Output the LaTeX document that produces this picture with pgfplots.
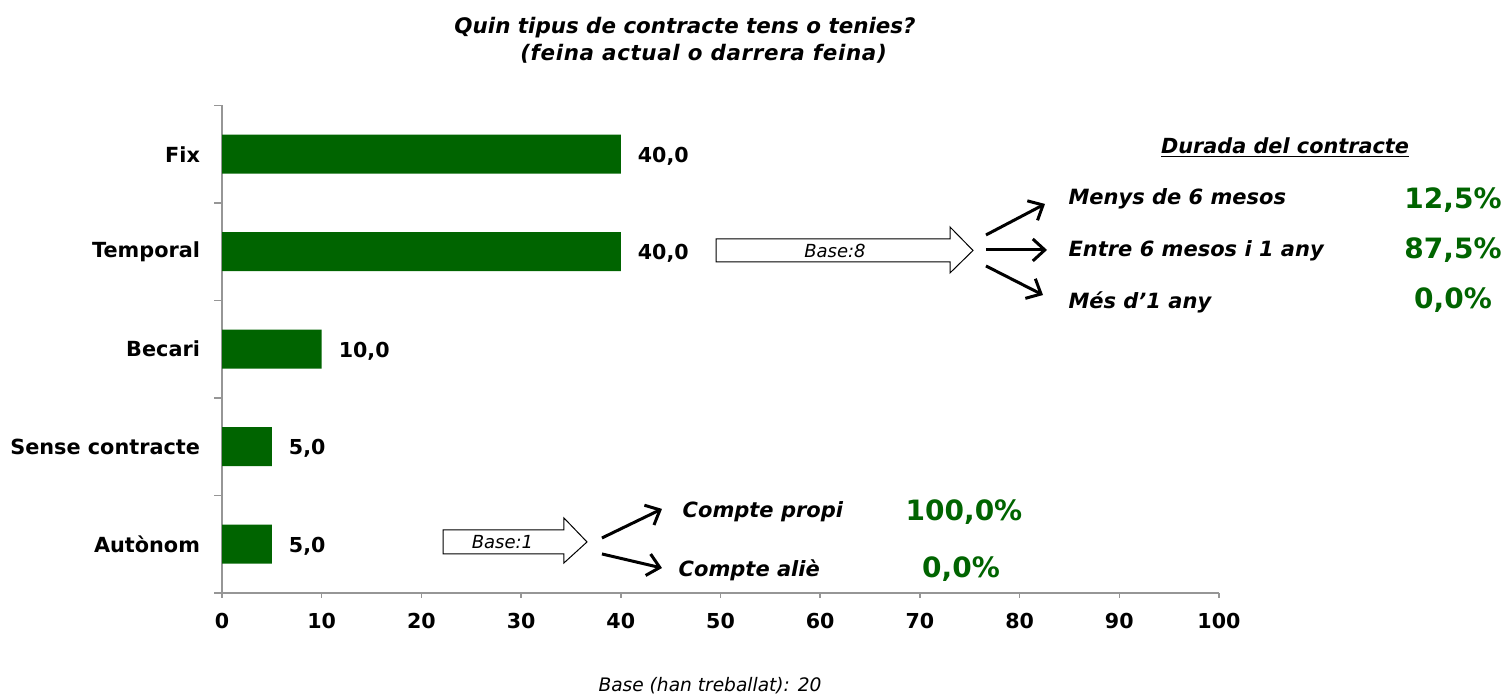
\documentclass[border=0pt]{standalone}
\usepackage{fontspec}
\setmainfont{DejaVu Sans}
\usepackage{pgfplots}
\pgfplotsset{compat=1.18}
\usetikzlibrary{arrows.meta}
\definecolor{bargreen}{RGB}{0,100,0}
\definecolor{axgray}{RGB}{150,150,150}
\begin{document}
\begin{tikzpicture}
\begin{axis}[
  name=ax,
  scale only axis,
  width=498.5pt, height=243.75pt,
  xmin=0, xmax=100, ymin=-0.5, ymax=4.5,
  xbar, bar width=19.5pt,
  axis x line*=bottom, axis y line*=left,
  axis line style={-, draw=axgray, line width=0.75pt},
  xtick={0,10,...,100},
  ytick={0,1,2,3,4},
  yticklabels={Autònom,Sense contracte,Becari,Temporal,Fix},
  minor ytick={-0.5,0.5,1.5,2.5,3.5,4.5},
  tick align=outside,
  major tick length=2.5pt,
  minor tick length=4pt,
  major y tick style={draw=none},
  tick style={draw=axgray, line width=0.75pt},
  /pgf/number format/assume math mode=true,
  xticklabel style={font=\fontsize{10.3}{12}\selectfont\bfseries, yshift=-4pt},
  yticklabel style={font=\fontsize{10.4}{12}\selectfont\bfseries, xshift=-5pt},
  clip=false,
  nodes near coords={\pgfmathprintnumber[fixed,fixed zerofill,precision=1,use comma]{\pgfplotspointmeta}},
  every node near coord/.append style={font=\fontsize{10.3}{12}\selectfont\bfseries, anchor=west, xshift=5pt, yshift=-1pt, black},
]
\addplot[fill=bargreen, draw=none] coordinates {(5,0) (5,1) (10,2) (40,3) (40,4)};

% title
\node[font=\fontsize{10.7}{12}\selectfont\bfseries\itshape] at (46.44,5.30) {Quin tipus de contracte tens o tenies?};
\node[font=\fontsize{10.7}{12}\selectfont\bfseries\itshape\addfontfeature{LetterSpace=3}] at (48.3,5.03) {(feina actual o darrera feina)};
% bottom note
\node[font=\fontsize{9.3}{11}\selectfont\itshape] at (48.95,-1.454) {Base (han treballat): 20};

% Base:8 block arrow
\draw[line width=0.5pt, fill=white] (49.55,3.131) -- (73.02,3.131) -- (73.02,3.254) -- (75.33,3.013) -- (73.02,2.782) -- (73.02,2.895) -- (49.55,2.895) -- cycle;
\node[font=\fontsize{9}{11}\selectfont\itshape] at (61.48,3.013) {Base:8};
\draw[line width=1.5pt, -{Straight Barb[length=6pt,width=11pt]}] (76.63,3.172) -- (82.55,3.490);
\draw[line width=1.5pt, -{Straight Barb[length=6pt,width=11pt]}] (76.63,3.018) -- (82.75,3.018);
\draw[line width=1.5pt, -{Straight Barb[length=6pt,width=11pt]}] (76.63,2.854) -- (82.35,2.556);
\node[font=\fontsize{10.4}{12}\selectfont\bfseries\itshape] at (106.62,4.07) {\underline{Durada del contracte}};
\node[anchor=west, font=\fontsize{10.5}{12}\selectfont\bfseries\itshape] at (84.2,3.541) {Menys de 6 mesos};
\node[anchor=west, font=\fontsize{10.5}{12}\selectfont\bfseries\itshape] at (84.2,3.008) {Entre 6 mesos i 1 any};
\node[anchor=west, font=\fontsize{10.5}{12}\selectfont\bfseries\itshape] at (84.2,2.485) {Més d’1 any};
\node[font=\fontsize{14}{16}\selectfont\bfseries, text=bargreen] at (123.47,3.531) {12,5\%};
\node[font=\fontsize{14}{16}\selectfont\bfseries, text=bargreen] at (123.47,3.018) {87,5\%};
\node[font=\fontsize{14}{16}\selectfont\bfseries, text=bargreen] at (123.47,2.505) {0,0\%};

% Base:1 block arrow
\draw[line width=0.5pt, fill=white] (22.17,0.146) -- (34.30,0.146) -- (34.30,0.269) -- (36.61,0.023) -- (34.30,-0.192) -- (34.30,-0.100) -- (22.17,-0.100) -- cycle;
\node[font=\fontsize{9}{11}\selectfont\itshape] at (28.13,0.023) {Base:1};
\draw[line width=1.5pt, -{Straight Barb[length=6pt,width=11pt]}] (38.11,0.064) -- (44.13,0.362);
\draw[line width=1.5pt, -{Straight Barb[length=6pt,width=11pt]}] (38.11,-0.100) -- (44.13,-0.244);
\node[anchor=west, font=\fontsize{10.5}{12}\selectfont\bfseries\itshape] at (45.5,0.331) {Compte propi};
\node[anchor=west, font=\fontsize{10.5}{12}\selectfont\bfseries\itshape] at (45.1,-0.264) {Compte aliè};
\node[font=\fontsize{14}{16}\selectfont\bfseries, text=bargreen] at (74.42,0.331) {100,0\%};
\node[font=\fontsize{14}{16}\selectfont\bfseries, text=bargreen] at (74.12,-0.254) {0,0\%};

\coordinate (bbtl) at (-22.27,5.582);
\coordinate (bbbr) at (128.89,-1.556);
\end{axis}
\pgfresetboundingbox
\useasboundingbox (bbtl) rectangle (bbbr);
\end{tikzpicture}
\end{document}
